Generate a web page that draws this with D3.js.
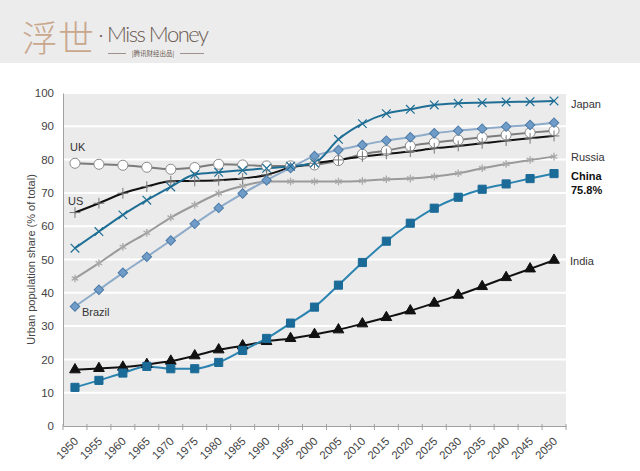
<!DOCTYPE html>
<html><head><meta charset="utf-8">
<script src="https://cdn.jsdelivr.net/npm/d3@7"></script>
<style>
html,body{margin:0;padding:0;background:#fff;}
svg{display:block;font-family:"Liberation Sans",Arial,sans-serif;}
</style></head>
<body>
<svg id="chart" width="640" height="471"></svg>
<script>
const years = [1950,1955,1960,1965,1970,1975,1980,1985,1990,1995,2000,2005,2010,2015,2020,2025,2030,2035,2040,2045,2050];
const yTicks = [0,10,20,30,40,50,60,70,80,90,100];
const japan  = [53.4,58.4,63.4,67.8,71.8,75.5,76.2,76.8,77.4,78.0,79.0,86.1,90.8,93.8,95.1,96.4,96.9,97.1,97.3,97.4,97.6];
const uk     = [78.9,78.6,78.3,77.7,77.1,77.6,78.6,78.4,78.1,78.1,78.4,79.7,81.6,82.7,84.1,85.1,85.9,86.7,87.4,88.1,88.7];
const us     = [64.1,66.9,69.9,71.9,73.5,73.6,73.8,74.3,75.4,77.6,78.9,79.9,80.9,81.7,82.4,83.4,84.1,84.9,85.7,86.4,87.1];
const brazil = [35.9,40.9,46.0,50.8,55.7,60.7,65.5,69.8,73.8,77.5,81.1,82.9,84.4,85.7,86.7,87.9,88.7,89.3,89.9,90.4,91.1];
const russia = [44.3,48.9,53.8,58.0,62.6,66.4,69.9,72.1,73.4,73.4,73.4,73.4,73.6,74.1,74.3,74.9,75.9,77.4,78.7,79.9,80.9];
const china  = [11.6,13.7,15.9,17.9,17.2,17.2,19.1,22.7,26.3,30.9,35.7,42.3,49.1,55.5,60.9,65.4,68.7,71.1,72.7,74.3,75.8];
const india  = [16.9,17.3,17.7,18.5,19.5,21.1,22.9,24.1,25.4,26.3,27.5,28.9,30.7,32.6,34.6,36.9,39.3,41.9,44.6,47.2,49.8];

const series = [
  {name:"Russia", values:russia, line:"#9a9a9a", sym:d3.symbolAsterisk, size:40, rot:0, fill:"none", stroke:"#a8a8a8", sw:1.3},
  {name:"UK", values:uk, line:"#7c7c7c", sym:d3.symbolCircle, size:80, rot:0, fill:"#ffffff", stroke:"#8a8a8a", sw:1},
  {name:"US", values:us, line:"#111111", sym:d3.symbolPlus, size:40, rot:0, fill:"none", stroke:"#777777", sw:1},
  {name:"Brazil", values:brazil, line:"#8eabc9", sym:d3.symbolSquare, size:45, rot:45, fill:"#6f9cc8", stroke:"#4d7aa6", sw:1},
  {name:"Japan", values:japan, line:"#1f6e95", sym:d3.symbolX, size:50, rot:0, fill:"none", stroke:"#1f6e95", sw:1.2},
  {name:"India", values:india, line:"#111111", sym:d3.symbolTriangle, size:50, rot:0, fill:"#111111", stroke:"#111111", sw:1},
  {name:"China", values:china, line:"#2b84b0", sym:d3.symbolSquare, size:66, rot:0, fill:"#1b6b98", stroke:"#1b6b98", sw:1}
];

const svg = d3.select("#chart");

// header band with logo
svg.append("rect").attr("x",0).attr("y",0).attr("width",640).attr("height",63).attr("fill","#ececec");
svg.append("text").attr("x",22).attr("y",52).attr("font-family","'Noto Sans CJK SC',sans-serif")
  .attr("font-size",36).attr("font-weight",300).attr("fill","#c9a78c").text("浮世");
svg.append("text").attr("x",98).attr("y",41).attr("font-size",18).attr("fill","#6b5a52").text("·");
svg.append("text").attr("x",107).attr("y",42).attr("font-family","Lato,'Liberation Sans',sans-serif")
  .attr("font-size",22).attr("font-weight",300).attr("fill","#6b5a52").attr("textLength",102).text("Miss Money");
svg.append("line").attr("x1",108).attr("x2",126).attr("y1",53.5).attr("y2",53.5).attr("stroke","#8a7a72").attr("stroke-width",0.8);
svg.append("line").attr("x1",180).attr("x2",204).attr("y1",53.5).attr("y2",53.5).attr("stroke","#8a7a72").attr("stroke-width",0.8);
svg.append("text").attr("x",153).attr("y",56).attr("text-anchor","middle").attr("font-family","'Noto Sans CJK SC',sans-serif")
  .attr("font-size",6.5).attr("fill","#6b5a52").text("|腾讯财经出品|");

const pLeft = 63, pRight = 566, pTop = 93, pBottom = 426;
const x = d3.scaleBand().domain(years).range([pLeft,pRight]).padding(0);
const y = d3.scaleLinear().domain([0,100]).range([pBottom,pTop]);
const cx = d => x(d) + x.bandwidth()/2;

// plot background
svg.append("rect").attr("x",pLeft).attr("y",pTop).attr("width",pRight-pLeft).attr("height",pBottom-pTop).attr("fill","#ebebeb");

// gridlines
svg.append("g").selectAll("line").data(yTicks.filter(t=>t>0)).join("line")
  .attr("x1",pLeft).attr("x2",pRight).attr("y1",d=>y(d)).attr("y2",d=>y(d))
  .attr("stroke","#ffffff").attr("stroke-width",2);

// y axis
const yAxis = svg.append("g").attr("transform",`translate(${pLeft},0)`)
  .call(d3.axisLeft(y).tickValues(yTicks).tickSize(0).tickPadding(9));
yAxis.select(".domain").attr("stroke","#a0a0a0");
yAxis.selectAll("text").attr("font-size",11.5).attr("fill","#444").attr("font-family","'Liberation Sans',Arial,sans-serif");

// x axis
const xAxis = svg.append("g").attr("transform",`translate(0,${pBottom})`)
  .call(d3.axisBottom(x).tickSize(0).tickPadding(0));
xAxis.select(".domain").attr("stroke","#a0a0a0");
xAxis.selectAll("text")
  .attr("font-size",11.5).attr("fill","#444").attr("font-family","'Liberation Sans',Arial,sans-serif")
  .attr("text-anchor","end").attr("dy",0).attr("y",0)
  .attr("transform", "translate(4,16) rotate(-45)");
svg.append("g").selectAll("line").data(years.map(d=>x(d)).concat([pRight])).join("line")
  .attr("x1",d=>d).attr("x2",d=>d).attr("y1",pBottom-2).attr("y2",pBottom+4)
  .attr("stroke","#a0a0a0").attr("stroke-width",1);

// y title
svg.append("text").attr("transform",`translate(35,${(pTop+pBottom)/2}) rotate(-90)`)
  .attr("text-anchor","middle").attr("font-size",11).attr("fill","#444")
  .text("Urban population share (% of total)");

// lines
const lineGen = d3.line().x((d,i)=>cx(years[i])).y(d=>y(d)).curve(d3.curveMonotoneX);
series.forEach(s=>{
  svg.append("path").datum(s.values).attr("d",lineGen)
    .attr("fill","none").attr("stroke",s.line).attr("stroke-width",2);
});
series.forEach(s=>{
  svg.append("g").selectAll("path").data(s.values).join("path")
    .attr("transform",(d,i)=>`translate(${cx(years[i])},${y(d)}) rotate(${s.rot})`)
    .attr("d",d3.symbol().type(s.sym).size(s.size))
    .attr("fill",s.fill).attr("stroke",s.stroke).attr("stroke-width",s.sw);
});

// labels
const lab = (t,xx,yy,bold)=>svg.append("text").attr("x",xx).attr("y",yy).attr("dy","0.35em")
  .attr("font-size",11).attr("fill",bold?"#111":"#333").attr("font-weight",bold?"bold":"normal").text(t);
lab("Japan",571,104);
lab("Russia",571,157);
lab("China",571,176,true);
lab("75.8%",571,190,true);
lab("India",570,261);
lab("UK",70,147);
lab("US",68,201);
lab("Brazil",82,312);
</script>
</body></html>
